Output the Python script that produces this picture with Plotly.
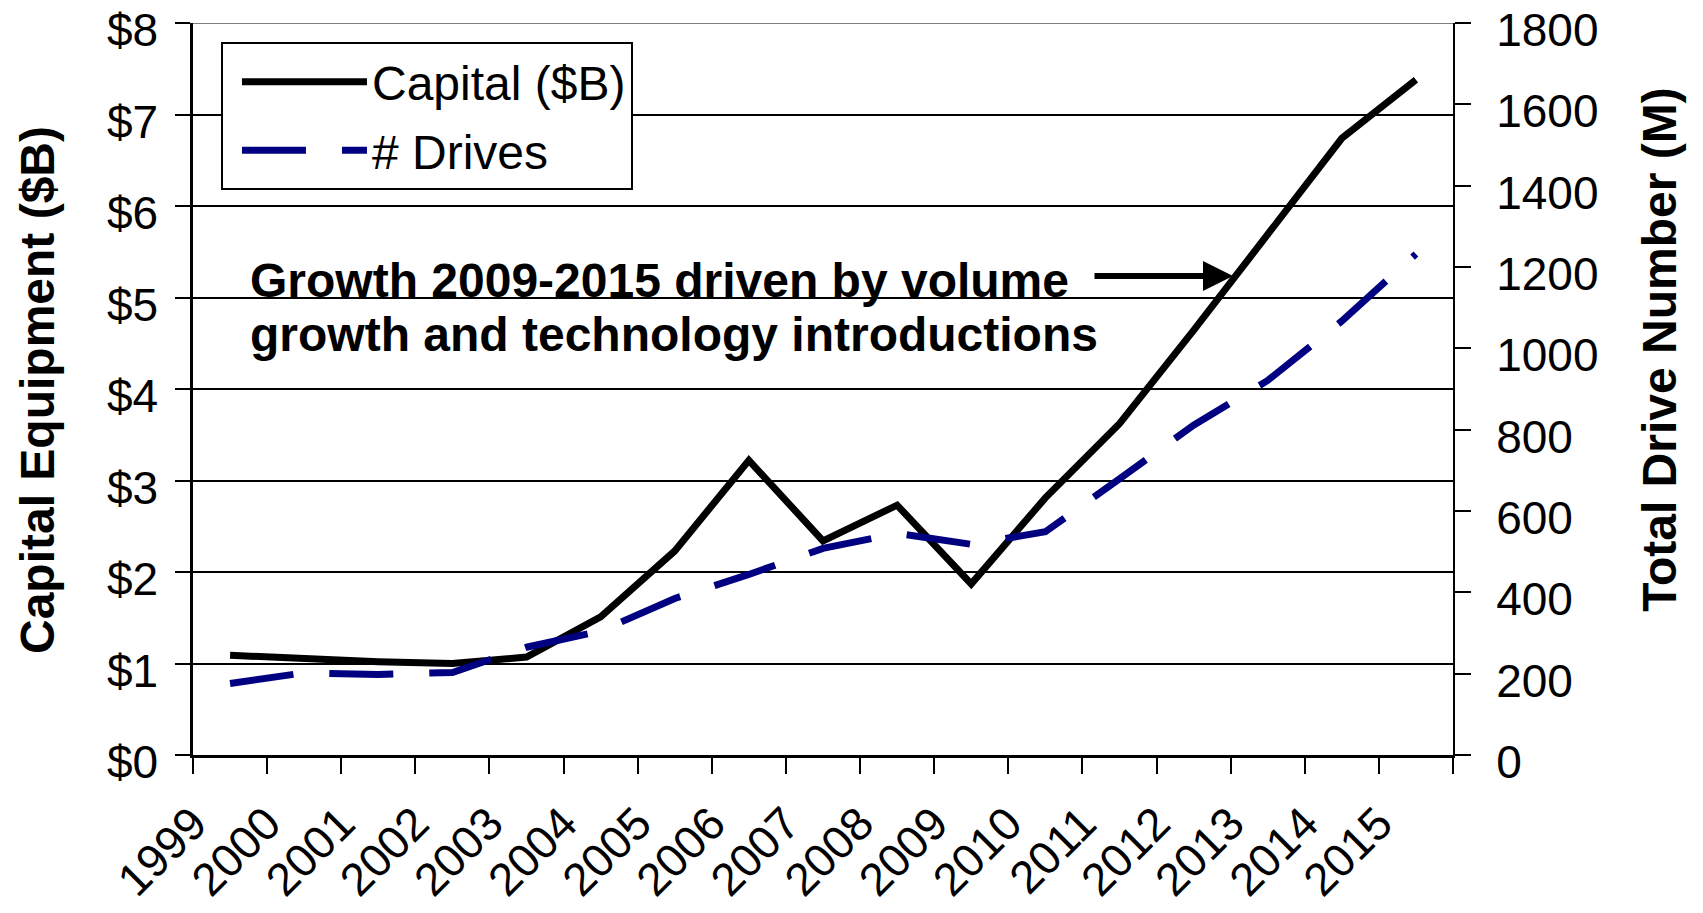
import plotly.graph_objects as go

years = [str(y) for y in range(1999, 2016)]
capital = [1.09, 1.05, 1.02, 1.00, 1.07, 1.51, 2.23, 3.22, 2.34, 2.73, 1.87, 2.81, 3.62, 4.64, 5.68, 6.74, 7.38]
drives = [176, 202, 198, 203, 265, 305, 385, 444, 508, 545, 518, 549, 679, 811, 921, 1067, 1232]
left_ticks = [0, 1, 2, 3, 4, 5, 6, 7, 8]
left_labels = ["$0", "$1", "$2", "$3", "$4", "$5", "$6", "$7", "$8"]
right_ticks = [0, 200, 400, 600, 800, 1000, 1200, 1400, 1600, 1800]

FONT = "Liberation Sans, Arial, sans-serif"
NAVY = "#000080"

fig = go.Figure()
fig.add_trace(go.Scatter(
    x=years, y=capital, name="Capital ($B)", mode="lines",
    line=dict(color="black", width=7), yaxis="y", legendgroup="a"))
fig.add_trace(go.Scatter(
    x=years, y=drives, name="# Drives", mode="lines",
    line=dict(color=NAVY, width=7, dash="64px,36px"), yaxis="y2", legendgroup="b"))

fig.update_layout(
    width=1703, height=913,
    margin=dict(l=193, r=250, t=23, b=158, autoexpand=False),
    paper_bgcolor="white", plot_bgcolor="white",
    font=dict(family=FONT, size=47, color="black"),
    xaxis=dict(
        type="category", categoryorder="array", categoryarray=years,
        range=[-0.5, 16.5], tickson="boundaries", ticks="outside", ticklen=16,
        tickwidth=2, tickcolor="black", showline=True, linecolor="black", linewidth=3,
        showgrid=False, tickangle=-45, tickfont=dict(size=46), zeroline=False,
        ticklabelshift=-37, ticklabelstandoff=20, ticklabeloverflow="allow",
        automargin=False),
    yaxis=dict(
        range=[0, 8], tickvals=left_ticks, ticktext=left_labels, ticks="outside", ticklen=15,
        tickwidth=2, tickcolor="black", showline=True, linecolor="black", linewidth=2.5,
        showgrid=True, gridcolor="black", gridwidth=1.7, zeroline=False,
        tickfont=dict(size=46), ticklabelstandoff=8, ticklabelshift=7,
        ticklabeloverflow="allow", automargin=False),
    yaxis2=dict(
        range=[0, 1800], tickvals=right_ticks, overlaying="y", side="right", anchor="x",
        ticks="outside", ticklen=16, tickwidth=2, tickcolor="black", showline=True,
        linecolor="black", linewidth=2, showgrid=False, zeroline=False,
        tickfont=dict(size=46), ticklabelstandoff=16, ticklabelshift=7,
        ticklabeloverflow="allow", automargin=False),
    yaxis3=dict(
        range=[0, 1800], tickvals=right_ticks, overlaying="y", side="right", anchor="x",
        ticks="inside", ticklen=16, tickwidth=2, tickcolor="black", showline=False,
        showgrid=False, zeroline=False, showticklabels=False, automargin=False),
    legend=dict(
        x=0.0222, y=0.974, xanchor="left", yanchor="top",
        bordercolor="black", borderwidth=2, bgcolor="white",
        font=dict(size=48), itemwidth=125, tracegroupgap=3, traceorder="grouped",
        indentation=14),
    showlegend=True,
)

# top border line of plot in grey
fig.add_shape(type="line", xref="paper", yref="y", x0=0, x1=1, y0=8, y1=8,
              line=dict(color="#808080", width=2))

# axis titles
fig.add_annotation(text="<b>Capital Equipment ($B)</b>", xref="paper", yref="paper",
                   x=-0.1238, y=0.4986, xanchor="center", yanchor="middle",
                   textangle=-90, showarrow=False, font=dict(size=48))
fig.add_annotation(text="<b>Total Drive Number (M)</b>", xref="paper", yref="paper",
                   x=1.164, y=0.553, xanchor="center", yanchor="middle",
                   textangle=-90, showarrow=False, font=dict(size=48))

# annotation text
fig.add_annotation(text="<b>Growth 2009-2015 driven by volume</b>", xref="paper", yref="paper",
                   x=0.0437, y=0.6489, xanchor="left", yanchor="middle",
                   showarrow=False, font=dict(size=48))
fig.add_annotation(text="<b>growth and technology introductions</b>", xref="paper", yref="paper",
                   x=0.0437, y=0.5738, xanchor="left", yanchor="middle",
                   showarrow=False, font=dict(size=48))
# arrow
fig.add_annotation(text="", xref="paper", yref="paper", x=0.8254, y=0.6544,
                   ax=-140, ay=0, showarrow=True, arrowhead=2, arrowsize=1.0,
                   arrowwidth=6, arrowcolor="black")

fig.write_html("out.html", config={"displayModeBar": False},
               post_script="document.body.style.margin='0';")
